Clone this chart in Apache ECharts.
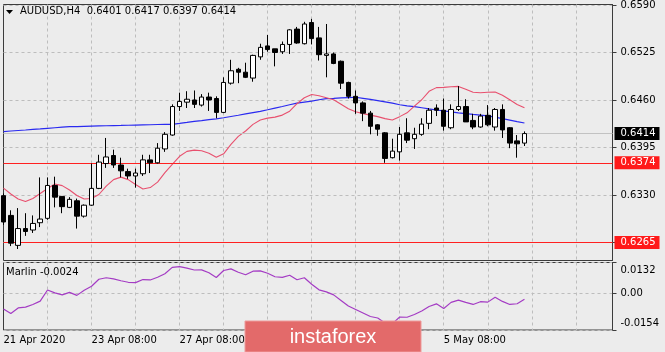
<!DOCTYPE html>
<html><head><meta charset="utf-8">
<script src="https://cdn.jsdelivr.net/npm/echarts@6/dist/echarts.min.js"></script>
<style>html,body{margin:0;padding:0;background:#ECECEC}#c{width:665px;height:352px}</style>
</head><body><div id="c"></div>
<script>
const titleText = 'AUDUSD,H4  0.6401 0.6417 0.6397 0.6414';
const marlinText = 'Marlin -0.0024';
const tickIdx = [0, 12, 24, 36, 48, 60];
const tickLabels = ['21 Apr 2020', '23 Apr 08:00', '27 Apr 08:00', '29 Apr 08:00', '1 May 08:00', '5 May 08:00'];
const priceTicks = [0.6265, 0.6330, 0.6395, 0.6460, 0.6525, 0.6590];
const marlinTicks = [-0.0154, 0, 0.0132];
const marlinTickLabels = ['-0.0154', '0.00', '0.0132'];
const bidPrice = 0.6414;
const levelLines = [0.6374, 0.6265];

const opens = [0.6329,0.6302,0.6261,0.6284,0.6282,0.6292,0.6298,0.6343,0.6328,0.6313,
0.6322,0.6301,0.6316,0.6339,0.6373,0.6384,0.6371,0.6362,0.6356,0.6359,
0.6378,0.6374,0.6393,0.6412,0.6451,0.6457,0.6460,0.6453,0.6464,0.6462,
0.6443,0.6483,0.6502,0.6498,0.6490,0.6519,0.6534,0.6530,0.6526,0.6536,
0.6557,0.6537,0.6566,0.6545,0.6521,0.6523,0.6513,0.6484,0.6465,0.6456,
0.6442,0.6426,0.6415,0.6381,0.6389,0.6415,0.6407,0.6413,0.6428,0.6449,
0.6446,0.6422,0.6447,0.6451,0.6432,0.6423,0.6439,0.6423,0.6447,0.6422,
0.6404,0.6401];
const closes = [0.6293,0.6264,0.6284,0.6280,0.6291,0.6297,0.6343,0.6327,0.6314,0.6324,
0.6301,0.6316,0.6339,0.6375,0.6382,0.6371,0.6363,0.6356,0.6360,0.6378,
0.6374,0.6394,0.6413,0.6451,0.6458,0.6461,0.6454,0.6464,0.6460,0.6443,
0.6484,0.6500,0.6498,0.6491,0.6521,0.6532,0.6529,0.6525,0.6536,0.6556,
0.6538,0.6564,0.6544,0.6522,0.6523,0.6510,0.6483,0.6465,0.6456,0.6442,
0.6424,0.6420,0.6380,0.6390,0.6413,0.6405,0.6413,0.6427,0.6446,0.6446,
0.6424,0.6447,0.6451,0.6430,0.6423,0.6438,0.6426,0.6447,0.6419,0.6401,
0.6400,0.6414];
const lows = [0.6289,0.6260,0.6256,0.6274,0.6278,0.6286,0.6296,0.6313,0.6305,0.6312,
0.6284,0.6299,0.6315,0.6338,0.6367,0.6367,0.6354,0.6352,0.6340,0.6356,
0.6360,0.6373,0.6389,0.6411,0.6445,0.6449,0.6449,0.6451,0.6445,0.6435,
0.6442,0.6481,0.6483,0.6490,0.6485,0.6515,0.6526,0.6506,0.6523,0.6523,
0.6537,0.6536,0.6536,0.6514,0.6491,0.6509,0.6475,0.6462,0.6441,0.6431,
0.6413,0.6411,0.6374,0.6380,0.6377,0.6401,0.6393,0.6411,0.6420,0.6438,
0.6418,0.6420,0.6445,0.6430,0.6420,0.6422,0.6424,0.6418,0.6408,0.6394,
0.6381,0.6397];
const highs = [0.6332,0.6309,0.6312,0.6305,0.6302,0.6354,0.6354,0.6355,0.6328,0.6327,
0.6325,0.6317,0.6373,0.6385,0.6408,0.6392,0.6381,0.6366,0.6366,0.6385,
0.6385,0.6401,0.6416,0.6454,0.6470,0.6472,0.6473,0.6468,0.6470,0.6465,
0.6491,0.6515,0.6504,0.6511,0.6522,0.6537,0.6549,0.6530,0.6540,0.6557,
0.6560,0.6567,0.6571,0.6560,0.6564,0.6525,0.6514,0.6485,0.6473,0.6458,
0.6445,0.6427,0.6416,0.6407,0.6423,0.6435,0.6422,0.6435,0.6449,0.6454,
0.6462,0.6454,0.6479,0.6461,0.6441,0.6441,0.6453,0.6449,0.6454,0.6423,
0.6412,0.6417];
const maBlue = [0.64167,0.64175,0.64182,0.64189,0.64197,0.64204,0.64212,0.64220,0.64228,0.64235,
0.64236,0.64239,0.64242,0.64245,0.64247,0.64250,0.64251,0.64254,0.64257,0.64260,
0.64261,0.64264,0.64265,0.64266,0.64279,0.64293,0.64308,0.64318,0.64331,0.64342,
0.64357,0.64374,0.64391,0.64409,0.64427,0.64444,0.64466,0.64489,0.64511,0.64535,
0.64556,0.64571,0.64585,0.64603,0.64618,0.64623,0.64629,0.64633,0.64637,0.64623,
0.64607,0.64590,0.64573,0.64556,0.64535,0.64519,0.64508,0.64494,0.64478,0.64463,
0.64450,0.64436,0.64423,0.64412,0.64402,0.64393,0.64382,0.64365,0.64345,0.64325,
0.64304,0.64285];
const maRed = [0.63394,0.63313,0.63245,0.63211,0.63252,0.63320,0.63388,0.63449,0.63428,0.63367,
0.63293,0.63245,0.63252,0.63306,0.63422,0.63510,0.63544,0.63510,0.63442,0.63381,
0.63401,0.63476,0.63605,0.63720,0.63829,0.63897,0.63913,0.63904,0.63870,0.63815,
0.63863,0.63992,0.64101,0.64175,0.64266,0.64325,0.64352,0.64365,0.64393,0.64447,
0.64549,0.64630,0.64674,0.64657,0.64630,0.64603,0.64542,0.64481,0.64440,0.64413,
0.64393,0.64372,0.64345,0.64325,0.64372,0.64424,0.64515,0.64603,0.64719,0.64769,
0.64773,0.64780,0.64786,0.64746,0.64705,0.64698,0.64705,0.64709,0.64664,0.64603,
0.64538,0.64494];
const marlin = [-0.00649,-0.00841,-0.00606,-0.00572,-0.00457,-0.00316,0.00154,0.00034,-0.00051,0.00055,
-0.00073,0.00141,0.00312,0.00610,0.00674,0.00623,0.00546,0.00482,0.00469,0.00598,
0.00580,0.00696,0.00845,0.01114,0.01144,0.01080,0.01003,0.01007,0.00888,0.00683,
0.00982,0.01050,0.00909,0.00802,0.00952,0.00965,0.00866,0.00717,0.00687,0.00781,
0.00589,0.00674,0.00397,0.00162,0.00077,-0.00051,-0.00286,-0.00521,-0.00670,-0.00819,
-0.00969,-0.01033,-0.01246,-0.01268,-0.00990,-0.00999,-0.00883,-0.00734,-0.00542,-0.00431,
-0.00627,-0.00371,-0.00273,-0.00371,-0.00457,-0.00341,-0.00359,-0.00149,-0.00329,-0.00457,
-0.00427,-0.00240];

const SLOTS = 84;
const slots = [];
for (let i = 0; i < SLOTS; i++) slots.push(i);
const candles = opens.map((o, i) => [o, closes[i], lows[i], highs[i]]);

const FONT = 'DejaVu Sans';
const gridLeft = 3.5, gridWidth = 609;
const vSplit = {show: true, interval: (i) => i > 0 && i % 6 === 0, lineStyle: {color: '#BDBDBD', type: [3, 3], width: 1}};
const hSplit = {show: true, lineStyle: {color: '#BDBDBD', type: [3, 3], width: 1}};

function levelLabel(text, bg) {
  return {show: true, position: 'end', distance: 2, formatter: text, color: '#FFFFFF', backgroundColor: bg,
    fontFamily: FONT, fontSize: 10, padding: [1, 4, 0, 6], lineHeight: 12};
}

const chart = echarts.init(document.getElementById('c'), null, {renderer: 'canvas'});
chart.setOption({
  animation: false,
  backgroundColor: '#ECECEC',
  grid: [
    {left: gridLeft, top: 2.5, width: gridWidth, height: 258, show: true, borderColor: '#3C3C3C', borderWidth: 1, backgroundColor: 'transparent'},
    {left: gridLeft, top: 262.5, width: gridWidth, height: 67.5, show: true, borderColor: '#3C3C3C', borderWidth: 1, backgroundColor: 'transparent'}
  ],
  xAxis: [
    {type: 'category', gridIndex: 0, data: slots, boundaryGap: false,
      axisLine: {show: false}, axisTick: {show: false}, axisLabel: {show: false}, splitLine: vSplit},
    {type: 'category', gridIndex: 1, data: slots, boundaryGap: false,
      axisLine: {show: false}, axisTick: {show: false}, splitLine: vSplit,
      axisLabel: {show: true, interval: (i) => tickIdx.indexOf(i) >= 0, align: 'left', margin: 5,
        formatter: (v, i) => tickLabels[tickIdx.indexOf(Number(v))] || '',
        fontFamily: FONT, fontSize: 10, color: '#000000'}}
  ],
  yAxis: [
    {type: 'value', gridIndex: 0, position: 'right', min: 0.624028, max: 0.659068, scale: true,
      axisLine: {show: true, lineStyle: {color: '#3C3C3C'}},
      axisTick: {show: true, length: 4, customValues: priceTicks, lineStyle: {color: '#3C3C3C'}},
      axisLabel: {customValues: priceTicks, formatter: (v) => v.toFixed(4), margin: 8, fontFamily: FONT, fontSize: 10, color: '#000000'},
      splitLine: hSplit},
    {type: 'value', gridIndex: 1, position: 'right', min: -0.0154, max: 0.0132,
      axisLine: {show: true, lineStyle: {color: '#3C3C3C'}},
      axisTick: {show: true, length: 4, customValues: marlinTicks, lineStyle: {color: '#3C3C3C'}},
      axisLabel: {customValues: marlinTicks, margin: 8,
        formatter: (v) => {
          const k = marlinTicks.findIndex(t => Math.abs(t - v) < 1e-7);
          const s = marlinTickLabels[k];
          return k === 2 ? '{t|' + s + '}' : (k === 0 ? '{b|' + s + '}' : s);
        },
        fontFamily: FONT, fontSize: 10, color: '#000000',
        rich: {
          t: {fontFamily: FONT, fontSize: 10, color: '#000000', padding: [15, 0, 0, 0]},
          b: {fontFamily: FONT, fontSize: 10, color: '#000000', padding: [0, 0, 13, 0]}
        }},
      splitLine: hSplit}
  ],
  series: [
    {type: 'candlestick', name: 'AUDUSD', xAxisIndex: 0, yAxisIndex: 0, data: candles, barWidth: 5, clip: true, z: 5,
      itemStyle: {color: '#FFFFFF', color0: '#000000', borderColor: '#000000', borderColor0: '#000000', borderWidth: 1}},
    {type: 'line', name: 'MA', xAxisIndex: 0, yAxisIndex: 0, data: maBlue, showSymbol: false, symbol: 'none', z: 4,
      lineStyle: {color: '#2A2AF0', width: 1.2},
      markLine: {silent: true, symbol: ['none', 'none'], precision: 4,
        data: [
          {yAxis: bidPrice, lineStyle: {color: '#C2C2C2', type: 'solid', width: 1}, label: levelLabel(bidPrice.toFixed(4), '#000000')},
          {yAxis: levelLines[0], lineStyle: {color: '#FF2020', type: 'solid', width: 1}, label: levelLabel(levelLines[0].toFixed(4), '#FF1A1A')},
          {yAxis: levelLines[1], lineStyle: {color: '#FF2020', type: 'solid', width: 1}, label: levelLabel(levelLines[1].toFixed(4), '#FF1A1A')}
        ]}},
    {type: 'line', name: 'Env', xAxisIndex: 0, yAxisIndex: 0, data: maRed, showSymbol: false, symbol: 'none', z: 4,
      lineStyle: {color: '#E8506E', width: 1.1}},
    {type: 'line', name: 'Marlin', xAxisIndex: 1, yAxisIndex: 1, data: marlin, showSymbol: false, symbol: 'none',
      lineStyle: {color: '#A43CC4', width: 1.2}}
  ],
  graphic: [
    {type: 'polygon', shape: {points: [[6, 10], [13, 10], [9.5, 14]]}, style: {fill: '#000000'}, z: 50},
    {type: 'text', left: 20, top: 6, style: {text: titleText, font: '10px "DejaVu Sans"', fill: '#000000'}, z: 50},
    {type: 'text', left: 6, top: 267, style: {text: marlinText, font: '10px "DejaVu Sans"', fill: '#000000'}, z: 50},
    {type: 'group', z: 100, children: [
      {type: 'rect', shape: {x: 245, y: 321, width: 176, height: 31}, style: {fill: '#E36A6A', stroke: '#EE9A9A', lineWidth: 1}, z: 100},
      {type: 'text', x: 333, y: 337, style: {text: 'instaforex', font: '20px "Liberation Sans"', fill: '#FFFFFF', align: 'center', verticalAlign: 'middle'}, z: 101}
    ]}
  ]
});
</script>
</body></html>
